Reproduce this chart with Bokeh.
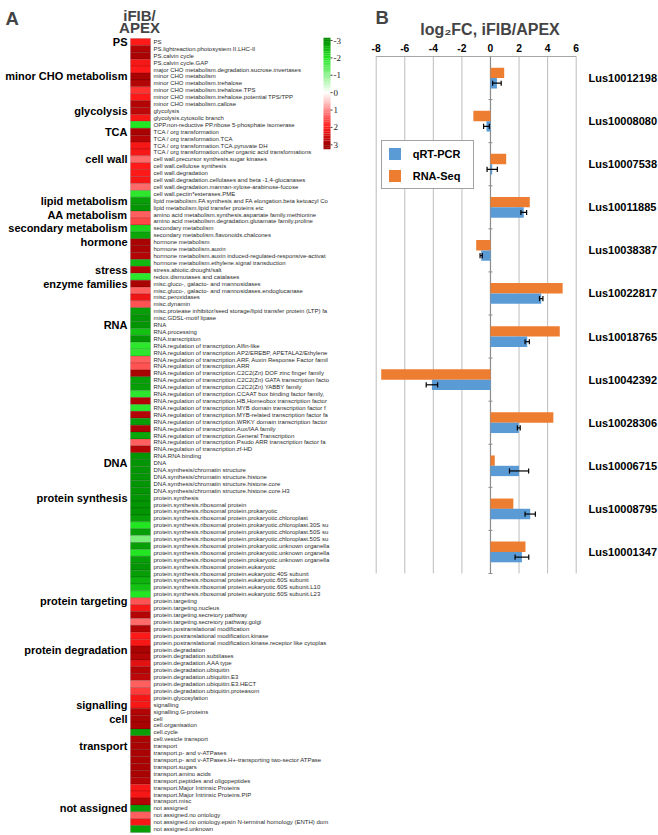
import numpy as np
from bokeh.plotting import figure
from bokeh.models import (ColumnDataSource, Range1d, LinearColorMapper, Label, Legend, LegendItem)
from bokeh.transform import dodge
from bokeh.core.properties import value
from bokeh.embed import file_html
from bokeh.resources import INLINE

# ---------------- Panel A data (labels as visible in the reference) ----------------
row_labels = [
    "PS", "PS.lightreaction.photosystem II.LHC-II", "PS.calvin cycle", "PS.calvin cycle.GAP",
    "major CHO metabolism.degradation.sucrose.invertases",
    "minor CHO metabolism", "minor CHO metabolism.trehalose", "minor CHO metabolism.trehalose.TPS",
    "minor CHO metabolism.trehalose.potential TPS/TPP", "minor CHO metabolism.callose",
    "glycolysis", "glycolysis.cytosolic branch", "OPP.non-reductive PP.ribose 5-phosphate isomerase",
    "TCA / org transformation", "TCA / org transformation.TCA",
    "TCA / org transformation.TCA.pyruvate DH", "TCA / org transformation.other organic acid transformations",
    "cell wall.precursor synthesis.sugar kinases", "cell wall.cellulose synthesis", "cell wall.degradation",
    "cell wall.degradation.cellulases and beta -1,4-glucanases",
    "cell wall.degradation.mannan-xylose-arabinose-fucose", "cell wall.pectin*esterases.PME",
    "lipid metabolism.FA synthesis and FA elongation.beta ketoacyl Co",
    "lipid metabolism.lipid transfer proteins etc",
    "amino acid metabolism.synthesis.aspartate family.methionine",
    "amino acid metabolism.degradation.glutamate family.proline",
    "secondary metabolism", "secondary metabolism.flavonoids.chalcones",
    "hormone metabolism", "hormone metabolism.auxin",
    "hormone metabolism.auxin induced-regulated-responsive-activat",
    "hormone metabolism.ethylene.signal transduction", "stress.abiotic.drought/salt",
    "redox.dismutases and catalases", "misc.gluco-, galacto- and mannosidases",
    "misc.gluco-, galacto- and mannosidases.endoglucanase", "misc.peroxidases", "misc.dynamin",
    "misc.protease inhibitor/seed storage/lipid transfer protein (LTP) fa",
    "misc.GDSL-motif lipase", "RNA", "RNA.processing", "RNA.transcription",
    "RNA.regulation of transcription.Alfin-like",
    "RNA.regulation of transcription.AP2/EREBP, APETALA2/Ethylene",
    "RNA.regulation of transcription.ARF, Auxin Response Factor famil",
    "RNA.regulation of transcription.ARR",
    "RNA.regulation of transcription.C2C2(Zn) DOF zinc finger family",
    "RNA.regulation of transcription.C2C2(Zn) GATA transcription facto",
    "RNA.regulation of transcription.C2C2(Zn) YABBY family",
    "RNA.regulation of transcription.CCAAT box binding factor family,",
    "RNA.regulation of transcription.HB,Homeobox transcription factor",
    "RNA.regulation of transcription.MYB domain transcription factor f",
    "RNA.regulation of transcription.MYB-related transcription factor fa",
    "RNA.regulation of transcription.WRKY domain transcription factor",
    "RNA.regulation of transcription.Aux/IAA family",
    "RNA.regulation of transcription.General Transcription",
    "RNA.regulation of transcription.Psudo ARR transcription factor fa",
    "RNA.regulation of transcription.zf-HD", "RNA.RNA binding", "DNA",
    "DNA.synthesis/chromatin structure", "DNA.synthesis/chromatin structure.histone",
    "DNA.synthesis/chromatin structure.histone.core", "DNA.synthesis/chromatin structure.histone.core.H3",
    "protein.synthesis", "protein.synthesis.ribosomal protein",
    "protein.synthesis.ribosomal protein.prokaryotic",
    "protein.synthesis.ribosomal protein.prokaryotic.chloroplast",
    "protein.synthesis.ribosomal protein.prokaryotic.chloroplast.30S su",
    "protein.synthesis.ribosomal protein.prokaryotic.chloroplast.50S su",
    "protein.synthesis.ribosomal protein.prokaryotic.chloroplast.50S su",
    "protein.synthesis.ribosomal protein.prokaryotic.unknown organella",
    "protein.synthesis.ribosomal protein.prokaryotic.unknown organella",
    "protein.synthesis.ribosomal protein.prokaryotic.unknown organella",
    "protein.synthesis.ribosomal protein.eukaryotic",
    "protein.synthesis.ribosomal protein.eukaryotic.40S subunit",
    "protein.synthesis.ribosomal protein.eukaryotic.60S subunit",
    "protein.synthesis.ribosomal protein.eukaryotic.60S subunit.L10",
    "protein.synthesis.ribosomal protein.eukaryotic.60S subunit.L23",
    "protein.targeting", "protein.targeting.nucleus", "protein.targeting.secretory pathway",
    "protein.targeting.secretory pathway.golgi", "protein.postranslational modification",
    "protein.postranslational modification.kinase",
    "protein.postranslational modification.kinase.receptor like cytoplas",
    "protein.degradation", "protein.degradation.subtilases", "protein.degradation.AAA type",
    "protein.degradation.ubiquitin", "protein.degradation.ubiquitin.E3",
    "protein.degradation.ubiquitin.E3.HECT", "protein.degradation.ubiquitin.proteasom",
    "protein.glycosylation", "signalling", "signalling.G-proteins", "cell", "cell.organisation",
    "cell.cycle", "cell.vesicle transport", "transport", "transport.p- and v-ATPases",
    "transport.p- and v-ATPases.H+-transporting two-sector ATPase", "transport.sugars",
    "transport.amino acids", "transport.peptides and oligopeptides",
    "transport.Major Intrinsic Proteins", "transport.Major Intrinsic Proteins.PIP", "transport.misc",
    "not assigned", "not assigned.no ontology",
    "not assigned.no ontology.epsin N-terminal homology (ENTH) dom",
    "not assigned.unknown",
]

row_values = [
    2.0, 2.8, 2.9, 2.1, 2.0,
    2.9, 2.8, 1.8, 2.0, 2.8,
    2.7, 2.1, -2.0, 2.9, 2.8,
    2.1, 2.1, 1.3, 2.0, 2.0,
    2.1, 1.3, -1.9, -2.8, -2.9,
    1.4, 1.6, -2.2, -2.7, 2.9,
    2.9, 2.8, -2.5, 2.8, -1.9,
    2.9, 1.4, 2.2, 1.5, -2.8,
    -2.9, -2.9, -2.4, -2.9, -1.9,
    -1.9, 1.4, 1.5, 2.9, -2.8,
    -2.8, -1.9, 2.8, -1.9, 2.8,
    -2.8, 2.9, -2.7, 1.4, 2.8,
    -2.9, -2.9, -2.9, -2.9, -2.9,
    -2.9, -2.9, -2.9, -2.9, -2.8,
    -2.0, -2.8, -1.2, -2.8, -2.0,
    -2.8, -2.9, -2.8, -2.6, -2.4,
    -2.0, 1.5, 2.1, 2.8, 1.3,
    2.8, 2.0, 2.1, 2.9, 2.8,
    2.3, 2.8, 2.7, 1.4, 1.7,
    2.1, 2.1, 2.8, 2.9, 2.9,
    -2.8, 2.9, 2.9, 2.9, 2.9,
    2.9, 2.9, 2.8, 2.1, 2.1,
    2.8, -2.8, 1.4, 2.1, -2.8,
]

group_labels = ["PS", "minor CHO metabolism", "glycolysis", "TCA", "cell wall", "lipid metabolism",
                "AA metabolism", "secondary metabolism", "hormone", "stress", "enzyme families",
                "RNA", "DNA", "protein synthesis", "protein targeting", "protein degradation",
                "signalling", "cell", "transport", "not assigned"]
group_rows = [0, 5, 10, 13, 17, 23, 25, 27, 29, 33, 35, 41, 61, 66, 81, 88, 96, 98, 102, 111]

cbar_ticks = [-3, -2, -1, 0, 1, 2, 3]
cbar_tick_labels = ["-3", "-2", "-1", "0", "1", "2", "3"]

# ---------------- Panel B data ----------------
genes = ["Lus10012198", "Lus10008080", "Lus10007538", "Lus10011885", "Lus10038387", "Lus10022817",
         "Lus10018765", "Lus10042392", "Lus10028306", "Lus10006715", "Lus10008795", "Lus10001347"]
rnaseq = [0.96, -1.2, 1.1, 2.75, -1.0, 5.05, 4.85, -7.65, 4.4, 0.3, 1.6, 2.45]
qpcr = [0.45, -0.28, 0.12, 2.33, -0.65, 3.55, 2.57, -4.1, 1.98, 2.0, 2.78, 2.2]
qpcr_err = [0.3, 0.2, 0.36, 0.2, 0.08, 0.12, 0.15, 0.4, 0.1, 0.67, 0.36, 0.48]
x_ticks = [-8, -6, -4, -2, 0, 2, 4, 6]
x_tick_labels = ["-8", "-6", "-4", "-2", "0", "2", "4", "6"]

# ---------------- colour scale ----------------
stops = [(-3.0, "#008c00"), (-2.0, "#22e622"), (0.0, "#ffffff"), (2.0, "#ff1a1a"), (3.0, "#a00000")]


def _rgb(h):
    return tuple(int(h[i:i + 2], 16) for i in (1, 3, 5))


palette = []
NPAL = 256
for k in range(NPAL):
    v = -3 + 6 * (k + 0.5) / NPAL
    for (v0, c0), (v1, c1) in zip(stops[:-1], stops[1:]):
        if v0 <= v <= v1:
            t = (v - v0) / (v1 - v0)
            a, b = _rgb(c0), _rgb(c1)
            palette.append("#%02x%02x%02x" % tuple(int(round(a[j] + (b[j] - a[j]) * t)) for j in range(3)))
            break
cmap = LinearColorMapper(palette=palette, low=-3, high=3)

FONT = "Liberation Sans"
W, H = 658, 835

# heatmap rows: row i centred at 38 + (i + .5) * row_px from the top
n_rows = len(row_labels)
row_px = 794 / n_rows
top_px = 38
heat_range = Range1d((H - top_px) / row_px - 0.5, -top_px / row_px - 0.5)

# bar chart: -8 .. 6 over px 375.7 .. 575.7 ; 12 genes over px 56 .. 573
fc_px = 200 / 14
fc_range = Range1d(-8 - 375.7 / fc_px, 6 + (W - 575.7) / fc_px)
g_top = 56
g_px = 517 / len(genes)
gene_range = Range1d((H - g_top) / g_px - 0.5, -g_top / g_px - 0.5)

# colour bar: -3 at px 40, +3 at px 144.3
cb_px = (144.3 - 40) / 6
cb_range = Range1d(3 + (H - 144.3) / cb_px, -3 - 40 / cb_px)

p = figure(width=W, height=H, x_range=Range1d(0, W), y_range=heat_range,
           x_axis_location=None, y_axis_location=None, toolbar_location=None,
           output_backend="svg", min_border=0)
p.extra_x_ranges = {"fc": fc_range}
p.extra_y_ranges = {"gene": gene_range, "cb": cb_range, "px": Range1d(H, 0)}
p.grid.visible = False
p.outline_line_color = None

# ---------------- Panel A ----------------
heat_src = ColumnDataSource(dict(row=list(range(n_rows)), label=row_labels, val=row_values))
p.rect(x=140, y="row", width=20, height=1, source=heat_src,
       fill_color={"field": "val", "transform": cmap},
       line_color="#000000", line_alpha=0.22, line_width=0.6)
p.text(x=153, y="row", text="label", source=heat_src, text_font=value(FONT),
       text_font_size="6px", text_color="#2a2a2a", text_baseline="middle", text_align="left")

grp_src = ColumnDataSource(dict(row=group_rows, label=group_labels))
p.text(x=127, y="row", text="label", source=grp_src, text_font=value(FONT),
       text_font_size="11px", text_font_style="bold", text_color="#000000",
       text_baseline="middle", text_align="right")

p.add_layout(Label(x=5, y=18.3, y_range_name="px", text="A", text_font=FONT,
                   text_font_size="18.5px", text_font_style="bold", text_baseline="alphabetic"))
p.add_layout(Label(x=139, y=15, y_range_name="px", text="iFIB/", text_font=FONT,
                   text_font_size="15px", text_font_style="bold", text_align="center",
                   text_baseline="alphabetic"))
p.add_layout(Label(x=139, y=27, y_range_name="px", text="APEX", text_font=FONT,
                   text_font_size="15px", text_font_style="bold", text_align="center",
                   text_baseline="alphabetic"))

# colour bar
steps = np.linspace(-3.1, 3.2, 64)
step_h = (steps[1] - steps[0]) * 1.08
grad_src = ColumnDataSource(dict(v=steps))
p.rect(x=326.5, y="v", width=7, height=step_h, source=grad_src, y_range_name="cb",
       fill_color={"field": "v", "transform": cmap}, line_color=None)
tick_src = ColumnDataSource(dict(t=cbar_ticks, lab=cbar_tick_labels))
p.segment(x0=330, x1=332, y0="t", y1="t", source=tick_src, y_range_name="cb",
          line_color="#444444", line_width=1)
p.text(x=333, y="t", text="lab", source=tick_src, y_range_name="cb",
       text_font=value("Liberation Serif"), text_font_size="9px", text_color="#222222",
       text_baseline="middle", text_align="left")

# ---------------- Panel B ----------------
n_g = len(genes)
grid_src = ColumnDataSource(dict(t=x_ticks, lab=x_tick_labels))
p.segment(x0="t", x1="t", y0=-0.5, y1=n_g - 0.5, source=grid_src,
          x_range_name="fc", y_range_name="gene", line_color="#bdbdbd", line_width=1)
p.segment(x0=x_ticks[0], x1=x_ticks[-1], y0=-0.5, y1=-0.5, x_range_name="fc",
          y_range_name="gene", line_color="#a6a6a6", line_width=1)
p.text(x="t", y=-0.5, text="lab", source=grid_src, x_range_name="fc", y_range_name="gene",
       y_offset=-8.5, text_font=value(FONT), text_font_size="10.3px", text_font_style="bold",
       text_color="#000000", text_align="center", text_baseline="alphabetic")

bar_src = ColumnDataSource(dict(
    idx=list(range(n_g)), gene=genes, rnaseq=rnaseq, qpcr=qpcr,
    lo=[q - e for q, e in zip(qpcr, qpcr_err)],
    hi=[q + e for q, e in zip(qpcr, qpcr_err)],
))

p.segment(x0=0, x1=0, y0=-0.5, y1=n_g - 0.5, x_range_name="fc", y_range_name="gene",
          line_color="#8c8c8c", line_width=1.2)
p.scatter(x=0, y=dodge("idx", 0.5), source=bar_src, x_range_name="fc", y_range_name="gene",
          marker="dash", size=4, line_color="#8c8c8c", line_width=1)

r_r = p.hbar(y=dodge("idx", -0.12), left=0, right="rnaseq", height=0.24, source=bar_src,
             x_range_name="fc", y_range_name="gene", fill_color="#ed7d31", line_color=None)
r_q = p.hbar(y=dodge("idx", 0.12), left=0, right="qpcr", height=0.24, source=bar_src,
             x_range_name="fc", y_range_name="gene", fill_color="#5b9bd5", line_color=None)
p.segment(x0="lo", x1="hi", y0=dodge("idx", 0.12), y1=dodge("idx", 0.12), source=bar_src,
          x_range_name="fc", y_range_name="gene", line_color="#000000", line_width=1.2)
for fld in ("lo", "hi"):
    p.segment(x0=fld, x1=fld, y0=dodge("idx", 0.06), y1=dodge("idx", 0.18), source=bar_src,
              x_range_name="fc", y_range_name="gene", line_color="#000000", line_width=1.2)

p.text(x=x_ticks[-1], y="idx", text="gene", source=bar_src, x_range_name="fc",
       y_range_name="gene", x_offset=12.3, text_font=value(FONT), text_font_size="11px",
       text_font_style="bold", text_color="#000000", text_align="left", text_baseline="middle")

legend = Legend(items=[LegendItem(label="qRT-PCR", renderers=[r_q]),
                       LegendItem(label="RNA-Seq", renderers=[r_r])],
                location=(380.7, H - 189.3), orientation="vertical",
                glyph_width=15, glyph_height=15, label_height=15, label_width=55,
                label_standoff=11, spacing=7, padding=5, margin=0,
                border_line_color="#444444", border_line_width=1.2,
                background_fill_color="#ffffff", background_fill_alpha=1,
                label_text_font=FONT, label_text_font_style="bold",
                label_text_font_size="11px", label_text_color="#000000")
p.add_layout(legend)

p.add_layout(Label(x=375, y=16.7, y_range_name="px", text="B", text_font=FONT,
                   text_font_size="18.5px", text_font_style="bold", text_baseline="alphabetic"))
p.add_layout(Label(x=489.5, y=28.7, y_range_name="px", text="log\u2082FC, iFIB/APEX",
                   text_font=FONT, text_font_size="16px", text_font_style="bold",
                   text_align="center", text_baseline="alphabetic"))

open("out.html", "w").write(file_html(p, INLINE))
